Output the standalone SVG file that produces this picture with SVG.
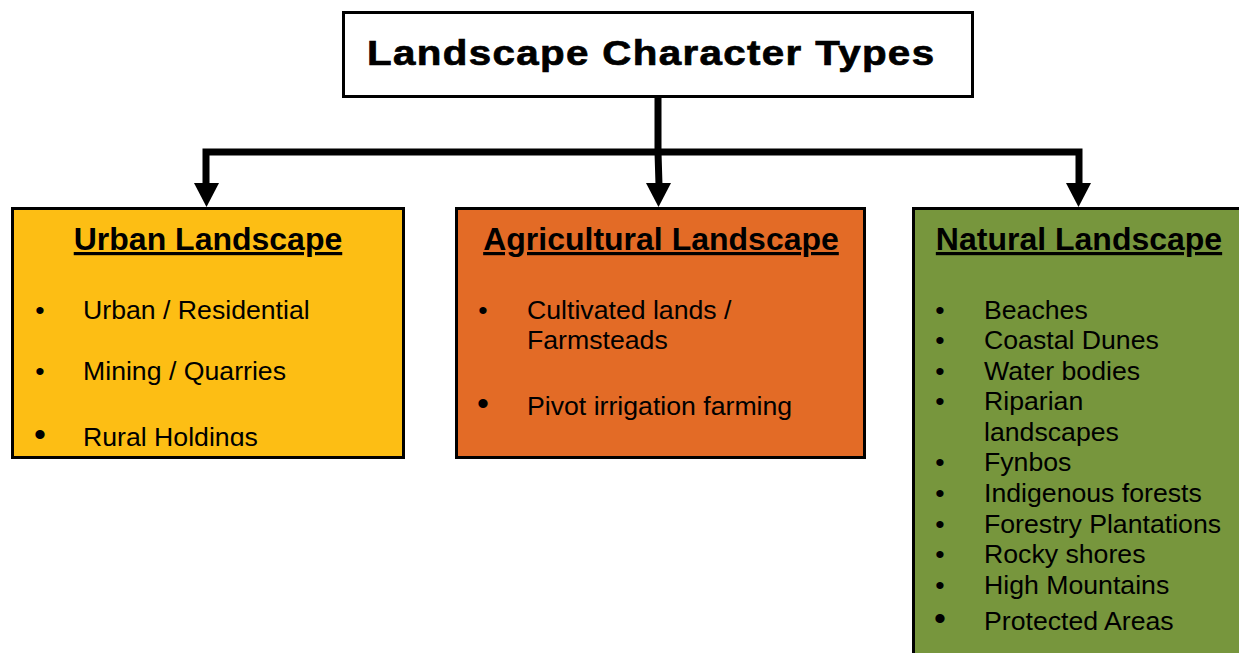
<svg xmlns="http://www.w3.org/2000/svg" width="1239" height="653" viewBox="0 0 1239 653">
<style>
.box{stroke:#000;stroke-width:3}
.head{font-family:"Liberation Sans",Arial,sans-serif;font-weight:bold;font-size:32px;text-anchor:middle;text-decoration:underline;fill:#000}
.item{font-family:"Liberation Sans",Arial,sans-serif;font-size:26.67px;fill:#000}
.bul{font-family:"Liberation Sans",Arial,sans-serif;font-size:26.67px;fill:#000;text-anchor:middle}
.bulL{font-family:"Liberation Sans",Arial,sans-serif;font-size:34px;fill:#000;text-anchor:middle}
.conn{fill:none;stroke:#000;stroke-width:7;stroke-linejoin:miter}
</style>
<defs>
<clipPath id="urbanClip"><rect x="12" y="207" width="392" height="239"/></clipPath>
</defs>
<rect width="1239" height="653" fill="#fff"/>
<g id="connectors">
<path class="conn" d="M206 185 V152 H1079 V185"/>
<path class="conn" d="M658 97 V152 L659 185"/>
<polygon points="194,183 219,183 206.5,207" fill="#000"/>
<polygon points="646,183 671,183 658.5,207" fill="#000"/>
<polygon points="1066,183 1091,183 1078.5,207" fill="#000"/>
</g>
<g id="title">
<rect class="box" x="343.5" y="12.5" width="629" height="84" fill="#fff"/>
<text transform="translate(367 64.5) scale(1.12 1)" x="0" y="0" font-family="'Liberation Sans',Arial,sans-serif" font-weight="bold" font-size="36" letter-spacing="1.2" fill="#000" stroke="#000" stroke-width="0.7">Landscape Character Types</text>
</g>
<g id="urban">
<rect class="box" x="12.5" y="208.5" width="391" height="249" fill="#FDBE14"/>
<text class="head" x="208" y="250">Urban Landscape</text>
<text class="bul" x="40" y="319">•</text>
<text class="item" x="83" y="319">Urban / Residential</text>
<text class="bul" x="40" y="380">•</text>
<text class="item" x="83" y="380">Mining / Quarries</text>
<g clip-path="url(#urbanClip)">
<text class="bulL" x="40" y="446">•</text>
<text class="item" x="83" y="446">Rural Holdings</text>
</g>
</g>
<g id="agricultural">
<rect class="box" x="456.5" y="208.5" width="408" height="249" fill="#E36B26"/>
<text class="head" x="661" y="250">Agricultural Landscape</text>
<text class="bul" x="483" y="319">•</text>
<text class="item" x="527" y="319">Cultivated lands /</text>
<text class="item" x="527" y="349">Farmsteads</text>
<text class="bulL" x="483" y="415">•</text>
<text class="item" x="527" y="415">Pivot irrigation farming</text>
</g>
<g id="natural">
<rect class="box" x="913.5" y="208.5" width="340" height="460" fill="#77963D"/>
<text class="head" x="1079" y="250">Natural Landscape</text>
<text class="bul" x="940" y="319">•</text><text class="item" x="984" y="319">Beaches</text>
<text class="bul" x="940" y="349">•</text><text class="item" x="984" y="349">Coastal Dunes</text>
<text class="bul" x="940" y="380">•</text><text class="item" x="984" y="380">Water bodies</text>
<text class="bul" x="940" y="410">•</text><text class="item" x="984" y="410">Riparian</text>
<text class="item" x="984" y="441">landscapes</text>
<text class="bul" x="940" y="471">•</text><text class="item" x="984" y="471">Fynbos</text>
<text class="bul" x="940" y="502">•</text><text class="item" x="984" y="502">Indigenous forests</text>
<text class="bul" x="940" y="533">•</text><text class="item" x="984" y="533">Forestry Plantations</text>
<text class="bul" x="940" y="563">•</text><text class="item" x="984" y="563">Rocky shores</text>
<text class="bul" x="940" y="594">•</text><text class="item" x="984" y="594">High Mountains</text>
<text class="bulL" x="940" y="630">•</text><text class="item" x="984" y="630">Protected Areas</text>
</g>
</svg>
